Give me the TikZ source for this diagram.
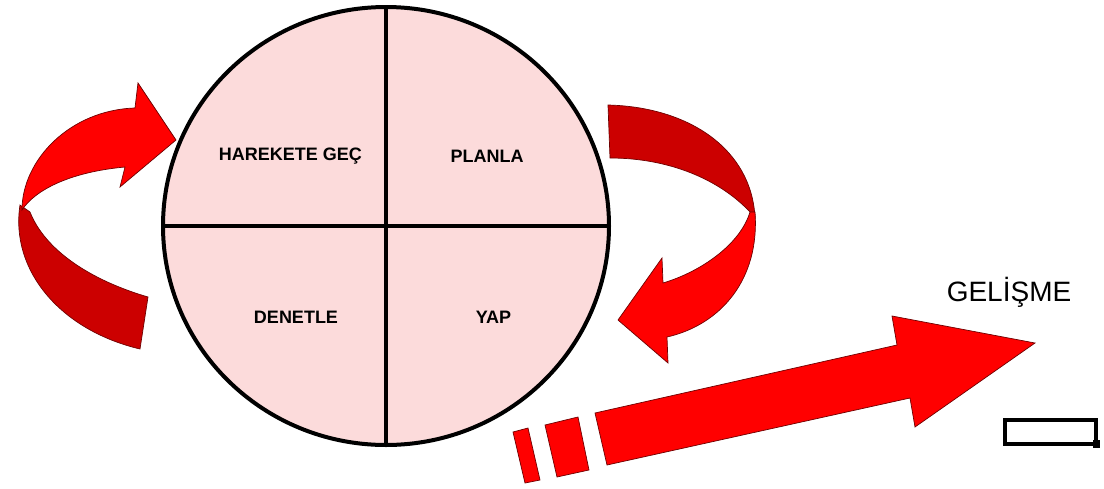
\documentclass[tikz,border=0pt]{standalone}
\usepackage{fontspec}
\setmainfont{Liberation Sans}
\definecolor{pinkfill}{RGB}{252,219,219}
\definecolor{brightred}{RGB}{255,0,0}
\definecolor{darkred}{RGB}{204,0,0}
\definecolor{edgered}{RGB}{110,0,0}
\begin{document}
\begin{tikzpicture}[x=1pt,y=-1pt,
  lightpart/.style={fill=brightred,draw=edgered,line width=0.7pt,line join=miter},
  darkpart/.style={fill=darkred,draw=edgered,line width=0.7pt},
  quad/.style={font=\fontsize{18}{20}\selectfont\bfseries,inner sep=0pt},
  divider/.style={line width=3.8pt,black}]
\useasboundingbox (0,0) rectangle (1104,488);
% circle
\coordinate (c) at (386,226);
\fill[pinkfill] (c) ellipse [x radius=223, y radius=219];
\draw[divider] (386,7) -- (386,445);
\draw[divider] (163,226) -- (609,226);
\draw[line width=4pt] (c) ellipse [x radius=223, y radius=219];
\node[quad] (hg) at (290.5,156) {HAREKETE GEÇ};
\node[quad] (pl) at (487,156) {PLANLA};
\node[quad] (dn) at (296,317.5) {DENETLE};
\node[quad] (yp) at (493.5,317.5) {YAP};
% left curved arrow
\draw[darkpart] (20,205) .. controls (10,270) and (60,330) .. (140,349) -- (148,297) .. controls (90,280) and (45,250) .. (30,212) -- cycle;
\draw[lightpart] (138,83) -- (176,140) -- (120,187) -- (125,167) .. controls (70,172) and (35,190) .. (22,210) .. controls (22,160) and (70,110) .. (135,108) -- cycle;
% right curved arrow
\draw[darkpart] (608,105) .. controls (690,107) and (752,150) .. (755,218) -- (750,212) .. controls (720,180) and (670,158) .. (610,158) -- cycle;
\draw[lightpart] (755,212) .. controls (760,280) and (720,325) .. (667,337) -- (668,363) -- (618,320) -- (662,258) -- (663,283) .. controls (700,272) and (740,245) .. (750,212) -- cycle;
% big arrow
\draw[lightpart] (595,413) -- (897,345) -- (892,316) -- (1035,343) -- (915,427) -- (910,398) -- (607,465) -- cycle;
\draw[lightpart] (513,432) -- (528,428) -- (540,480) -- (525,483) -- cycle;
\draw[lightpart] (545,425) -- (578,417) -- (589,470) -- (557,477) -- cycle;
% label
\node[font=\fontsize{28}{32}\selectfont,inner sep=0pt] (gel) at (1009,292) {GELİŞME};
% small box
\draw[line width=3.6pt] (1005,420) rectangle (1096,444);
\fill (1093,440) rectangle (1100,448);
\end{tikzpicture}
\end{document}
